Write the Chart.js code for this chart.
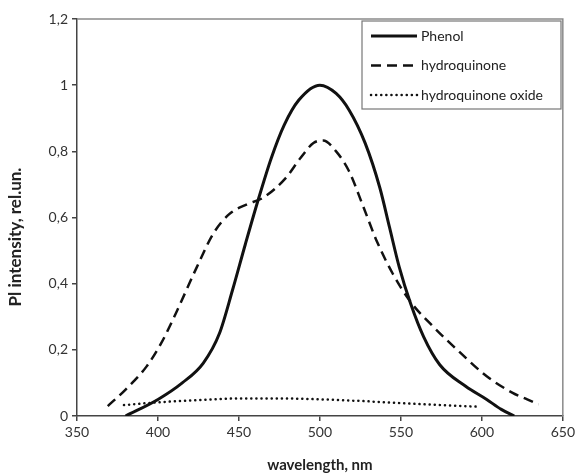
<!DOCTYPE html>
<html>
<head>
<meta charset="utf-8">
<script src="https://cdn.jsdelivr.net/npm/chart.js@4/dist/chart.umd.min.js"></script>
<style>
  html, body { margin: 0; padding: 0; background: #fff; }
  #wrap { width: 578px; height: 474px; position: relative; }
</style>
</head>
<body>
<div id="wrap"><canvas id="plChart"></canvas></div>
<script>
const phenolX = [380, 400, 415, 428, 438, 446, 454, 462, 470, 478, 487, 500, 510, 518, 528, 537, 543, 549, 556, 564, 574, 590, 603, 612, 620];
const phenolY = [0, 0.05, 0.1, 0.16, 0.25, 0.38, 0.52, 0.655, 0.78, 0.88, 0.955, 1.0, 0.975, 0.925, 0.824, 0.69, 0.57, 0.45, 0.34, 0.24, 0.155, 0.09, 0.05, 0.02, 0];

const hydroX = [369, 380, 393, 402, 411, 424, 434, 444, 455, 465, 479, 488, 496, 502, 510, 518, 527, 535, 545, 556, 570, 587, 603, 619, 628, 635];
const hydroY = [0.03, 0.08, 0.15, 0.22, 0.31, 0.45, 0.55, 0.61, 0.64, 0.66, 0.72, 0.78, 0.825, 0.833, 0.8, 0.74, 0.63, 0.53, 0.43, 0.345, 0.27, 0.19, 0.12, 0.07, 0.05, 0.035];

const oxideX = [379, 399, 425, 451, 475, 502, 527, 553, 575, 598];
const oxideY = [0.033, 0.041, 0.048, 0.053, 0.053, 0.05, 0.045, 0.038, 0.033, 0.028];

const xTicks = [350, 400, 450, 500, 550, 600, 650];
const yTicks = [0, 0.2, 0.4, 0.6, 0.8, 1, 1.2];
const yTitle = "Pl intensity, rel.un.";

const font = "Lato, 'Open Sans', sans-serif";
const pts = (xs, ys) => xs.map((x, i) => ({ x, y: ys[i] }));

const series = [
  { label: "Phenol", data: pts(phenolX, phenolY), borderWidth: 3, borderDash: [], borderCapStyle: "butt" },
  { label: "hydroquinone", data: pts(hydroX, hydroY), borderWidth: 2.5, borderDash: [10, 6], borderCapStyle: "butt" },
  { label: "hydroquinone oxide", data: pts(oxideX, oxideY), borderWidth: 2.5, borderDash: [0.1, 5], borderCapStyle: "round" },
];

// box lines on top/right, the y title (sits a bit low in the original) and the legend
const frameAndLegend = {
  id: "frameAndLegend",
  afterDraw(chart) {
    const { ctx, chartArea: a } = chart;
    ctx.save();
    ctx.strokeStyle = "#8a8a8a";
    ctx.lineWidth = 1.5;
    ctx.beginPath();
    ctx.moveTo(a.left, a.top);
    ctx.lineTo(a.right, a.top);
    ctx.lineTo(a.right, a.bottom);
    ctx.stroke();

    ctx.save();
    ctx.translate(16, 237);
    ctx.rotate(-Math.PI / 2);
    ctx.fillStyle = "#222";
    ctx.font = `bold 17px ${font}`;
    ctx.textAlign = "center";
    ctx.textBaseline = "middle";
    ctx.fillText(yTitle, 0, 0);
    ctx.restore();

    const bx = 362, by = 21, bw = 199, bh = 88;
    ctx.fillStyle = "#fff";
    ctx.fillRect(bx, by, bw, bh);
    ctx.strokeStyle = "#777";
    ctx.lineWidth = 1.2;
    ctx.strokeRect(bx, by, bw, bh);

    series.forEach((s, i) => {
      const y = 36 + i * 29.5;
      ctx.strokeStyle = "#111";
      ctx.lineWidth = s.borderWidth;
      ctx.lineCap = s.borderCapStyle;
      ctx.setLineDash(s.borderDash);
      ctx.beginPath();
      ctx.moveTo(371, y);
      ctx.lineTo(417, y);
      ctx.stroke();
      ctx.setLineDash([]);
      ctx.fillStyle = "#222";
      ctx.font = `14px ${font}`;
      ctx.textBaseline = "middle";
      ctx.fillText(s.label, 421, y);
    });
    ctx.restore();
  },
};

new Chart(document.getElementById("plChart"), {
  type: "scatter",
  data: {
    datasets: series.map(s => ({
      ...s,
      showLine: true,
      pointRadius: 0,
      borderColor: "#111",
      backgroundColor: "#111",
      cubicInterpolationMode: "monotone",
      fill: false,
    })),
  },
  options: {
    responsive: true,
    maintainAspectRatio: false,
    animation: false,
    layout: { padding: { top: 19, right: 15, left: 0, bottom: 0 } },
    plugins: { legend: { display: false }, tooltip: { enabled: false } },
    scales: {
      x: {
        type: "linear",
        min: 350,
        max: 650,
        afterBuildTicks: (scale) => { scale.ticks = xTicks.map(v => ({ value: v })); },
        afterFit: (scale) => { scale.height = 58; },
        ticks: { color: "#333", font: { family: font, size: 14 }, padding: 3, maxRotation: 0 },
        grid: { drawOnChartArea: false, drawTicks: true, tickLength: 5, color: "#444", lineWidth: 1.5 },
        border: { color: "#444", width: 1.5 },
        title: { display: true, text: "wavelength, nm", color: "#222", font: { family: font, size: 15, weight: "bold" }, padding: { top: 5, bottom: 0 } },
      },
      y: {
        min: 0,
        max: 1.2,
        afterBuildTicks: (scale) => { scale.ticks = yTicks.map(v => ({ value: v })); },
        afterFit: (scale) => { scale.width = 77; },
        ticks: {
          color: "#333",
          font: { family: font, size: 14 },
          padding: 4,
          callback: (v) => String(Math.round(v * 10) / 10).replace(".", ","),
        },
        grid: { drawOnChartArea: false, drawTicks: true, tickLength: 5, color: "#444", lineWidth: 1.5 },
        border: { color: "#444", width: 1.5 },
      },
    },
  },
  plugins: [frameAndLegend],
});
</script>
</body>
</html>
